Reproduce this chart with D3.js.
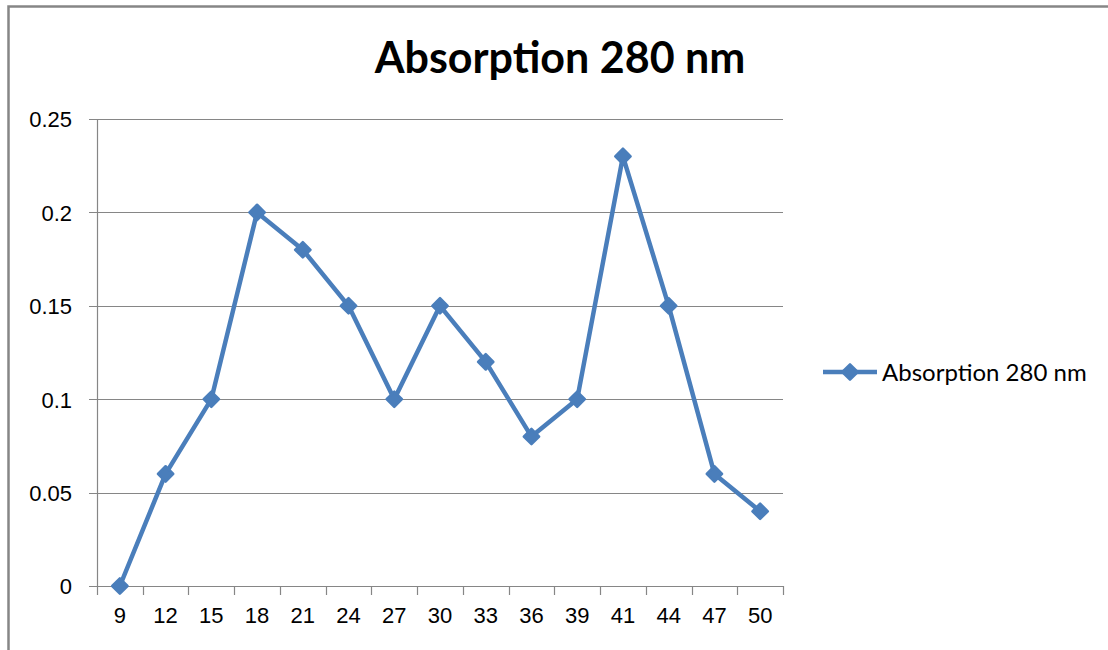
<!DOCTYPE html>
<html>
<head>
<meta charset="utf-8">
<script src="https://cdn.jsdelivr.net/npm/d3@7"></script>
<style>
	body { margin: 0; background: #fff; }
	#chart { width: 1108px; height: 650px; }
	svg { font-family: Lato, 'Open Sans', sans-serif; }
	.tickText { font-size: 22px; fill: #000; }
	.chartTitle { font-size: 43px; font-weight: bold; fill: #000; }
	.legendText { font-size: 24px; fill: #000; }
</style>
</head>
<body>
<div id="chart"><svg width="1108" height="650"></svg></div>
<script>
// fraction numbers (x axis) and absorbance read at 280 nm
const fractions = ['9', '12', '15', '18', '21', '24', '27', '30', '33', '36', '39', '41', '44', '47', '50'];
const absorbance = [0, 0.06, 0.1, 0.2, 0.18, 0.15, 0.1, 0.15, 0.12, 0.08, 0.1, 0.23, 0.15, 0.06, 0.04];
const yTicks = [0, 0.05, 0.1, 0.15, 0.2, 0.25];
const yTickLabels = ['0', '0.05', '0.1', '0.15', '0.2', '0.25'];
const seriesName = 'Absorption 280 nm';

/**********************
***** BASIC SETUP *****
**********************/

const width = 1108;
const height = 650;
const margin = { top: 119, left: 97, right: 325, bottom: 64 };

const plotWidth = width - margin.left - margin.right;
const plotHeight = height - margin.top - margin.bottom;

const LINE_COLOR = '#4a7ebb';
const GRID_COLOR = '#868686';

const svg = d3.select('#chart').select('svg');

const data = fractions.map(function(f, i) {
	return { fraction: f, value: absorbance[i] };
});

// outer chart frame (only top and left edges show in the picture)
svg.append('path')
	.attr('d', `M8.5,${height} V6.5 H${width}`)
	.attr('fill', 'none')
	.attr('stroke', GRID_COLOR)
	.attr('stroke-width', 2.5);

/***********************
***** X & Y SCALES *****
***********************/

const xScale = d3.scaleBand()
	.domain(fractions)
	.range([0, plotWidth]);

const yScale = d3.scaleLinear()
	.domain([0, 0.25])
	.range([plotHeight, 0]);

const plot = svg.append('g')
	.attr('transform', `translate(${margin.left}, ${margin.top})`);

/*******************
***** GRIDLINES *****
********************/

plot.append('g')
	.selectAll('line')
	.data(yTicks)
	.enter()
	.append('line')
	.attr('x1', -8)
	.attr('x2', plotWidth)
	.attr('y1', function(d) { return Math.round(yScale(d)) + 0.5; })
	.attr('y2', function(d) { return Math.round(yScale(d)) + 0.5; })
	.attr('stroke', GRID_COLOR)
	.attr('stroke-width', 1.2);

/***************
***** AXES *****
****************/

// y axis
const yAxis = plot.append('g')
	.call(d3.axisLeft(yScale)
		.tickValues(yTicks)
		.tickFormat(function(d, i) { return yTickLabels[i]; })
		.tickSize(0)
		.tickPadding(25));
yAxis.select('.domain')
	.attr('d', `M0.5,0V${plotHeight}`)
	.attr('stroke', GRID_COLOR)
	.attr('stroke-width', 1.2);
yAxis.selectAll('text').attr('class', 'tickText').attr('dy', '0.36em');

// x axis, ticks sit on category boundaries
const xAxis = plot.append('g')
	.attr('transform', `translate(0, ${plotHeight})`)
	.call(d3.axisBottom(xScale).tickSize(0).tickPadding(29));
xAxis.select('.domain').remove();
xAxis.selectAll('text').attr('class', 'tickText').attr('dy', '0.36em');

xAxis.selectAll('.boundary')
	.data(fractions.concat(['end']))
	.enter()
	.append('line')
	.attr('class', 'boundary')
	.attr('x1', function(d, i) { return Math.round(i * xScale.step()) + 0.5; })
	.attr('x2', function(d, i) { return Math.round(i * xScale.step()) + 0.5; })
	.attr('y1', 0)
	.attr('y2', 9)
	.attr('stroke', GRID_COLOR)
	.attr('stroke-width', 1.2);

/****************
***** SERIES *****
*****************/

const xCenter = function(d) { return xScale(d.fraction) + xScale.bandwidth() / 2; };

const line = d3.line()
	.x(xCenter)
	.y(function(d) { return yScale(d.value); });

plot.append('path')
	.datum(data)
	.attr('d', line)
	.attr('fill', 'none')
	.attr('stroke', LINE_COLOR)
	.attr('stroke-width', 4.5)
	.attr('stroke-linejoin', 'round');

const diamond = d3.symbol().type(d3.symbolDiamond2).size(150);

plot.selectAll('.marker')
	.data(data)
	.enter()
	.append('path')
	.attr('class', 'marker')
	.attr('d', diamond)
	.attr('transform', function(d) {
		return `translate(${xCenter(d)}, ${yScale(d.value)})`;
	})
	.attr('fill', LINE_COLOR)
	.attr('stroke', LINE_COLOR)
	.attr('stroke-width', 2.5)
	.attr('stroke-linejoin', 'round');

/*************************
***** TITLE, LEGEND *****
*************************/

svg.append('text')
	.attr('class', 'chartTitle')
	.attr('x', 560)
	.attr('y', 73)
	.attr('text-anchor', 'middle')
	.text(seriesName);

const legend = svg.append('g')
	.attr('transform', 'translate(823, 372)');

legend.append('line')
	.attr('x1', 0)
	.attr('x2', 54)
	.attr('stroke', LINE_COLOR)
	.attr('stroke-width', 4.5);

legend.append('path')
	.attr('d', diamond)
	.attr('transform', 'translate(27, 0)')
	.attr('fill', LINE_COLOR)
	.attr('stroke', LINE_COLOR)
	.attr('stroke-width', 2.5)
	.attr('stroke-linejoin', 'round');

legend.append('text')
	.attr('class', 'legendText')
	.attr('x', 59)
	.attr('y', 0)
	.attr('dy', '0.36em')
	.text(seriesName);
</script>
</body>
</html>
